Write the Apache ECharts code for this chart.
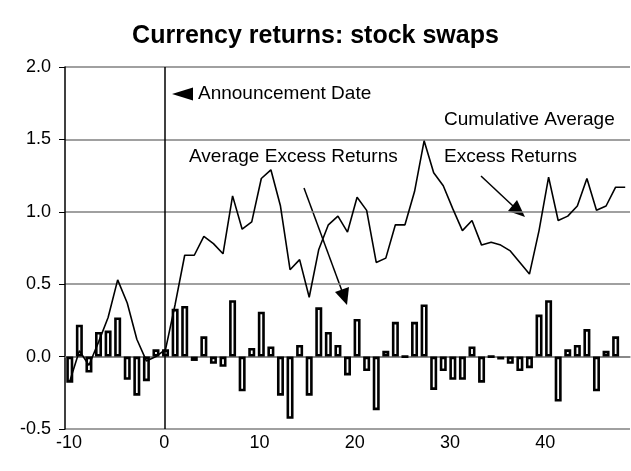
<!DOCTYPE html>
<html>
<head>
<meta charset="utf-8">
<script src="https://cdn.jsdelivr.net/npm/echarts@6/dist/echarts.min.js"></script>
<style>
  html, body { margin: 0; padding: 0; background: #fff; }
  #chart { width: 631px; height: 471px; }
</style>
</head>
<body>
<div id="chart"></div>
<script>
// event days, -10 .. 48
var days = [-10, -9, -8, -7, -6, -5, -4, -3, -2, -1,
    0, 1, 2, 3, 4, 5, 6, 7, 8, 9,
    10, 11, 12, 13, 14, 15, 16, 17, 18, 19,
    20, 21, 22, 23, 24, 25, 26, 27, 28, 29,
    30, 31, 32, 33, 34, 35, 36, 37, 38, 39,
    40, 41, 42, 43, 44, 45, 46, 47, 48];

// average excess returns (bars)
var avgExcess = [-0.18, 0.22, -0.11, 0.17, 0.18, 0.27, -0.16, -0.27, -0.17, 0.05,
    0.05, 0.33, 0.35, -0.03, 0.14, -0.05, -0.07, 0.39, -0.24, 0.06,
    0.31, 0.07, -0.27, -0.43, 0.08, -0.27, 0.34, 0.17, 0.08, -0.13,
    0.26, -0.10, -0.37, 0.04, 0.24, 0, 0.24, 0.36, -0.23, -0.10,
    -0.16, -0.16, 0.07, -0.18, 0, -0.02, -0.05, -0.10, -0.08, 0.29,
    0.39, -0.31, 0.05, 0.08, 0.19, -0.24, 0.04, 0.14, null];

// cumulative average excess returns (line)
var cumExcess = [-0.17, 0.04, -0.06, 0.10, 0.27, 0.53, 0.37, 0.12, -0.03, 0.00,
    0.05, 0.36, 0.70, 0.70, 0.83, 0.78, 0.71, 1.11, 0.88, 0.93,
    1.23, 1.29, 1.04, 0.60, 0.67, 0.41, 0.74, 0.91, 0.97, 0.86,
    1.10, 1.01, 0.65, 0.68, 0.91, 0.91, 1.14, 1.49, 1.27, 1.18,
    1.02, 0.87, 0.94, 0.77, 0.79, 0.77, 0.73, 0.65, 0.57, 0.87,
    1.24, 0.94, 0.97, 1.04, 1.23, 1.01, 1.04, 1.17, 1.17];

var xTicks = { min: -10, max: 49, step: 10 };
var announceDay = 0;
var font = '"Liberation Sans", Arial, sans-serif';

var chart = echarts.init(document.getElementById('chart'));
chart.setOption({
    animation: false,
    backgroundColor: '#fff',
    title: {
        text: 'Currency returns: stock swaps',
        left: 'center',
        top: 19,
        textStyle: { fontFamily: font, fontSize: 25, fontWeight: 'bold', color: '#000' }
    },
    grid: [
        { left: 65, right: 1, top: 67, bottom: 42 },
        // day scale for labels and the announcement line (Excel puts them a bit right)
        { left: 69, width: 565, top: 67, bottom: 42 }
    ],
    xAxis: [{
        type: 'category',
        gridIndex: 0,
        data: days,
        boundaryGap: true,
        axisLine: { lineStyle: { color: '#808080', width: 1.5 } },
        axisTick: { show: false },
        axisLabel: { show: false }
    }, {
        type: 'value',
        gridIndex: 1,
        min: xTicks.min,
        max: xTicks.max,
        interval: xTicks.step,
        axisLine: { show: false },
        axisTick: { show: false },
        axisLabel: { showMaxLabel: false, margin: 5, fontFamily: font, fontSize: 18, color: '#000' },
        splitLine: { show: false }
    }],
    yAxis: [{
        type: 'value',
        gridIndex: 0,
        min: -0.5,
        max: 2.0,
        interval: 0.5,
        axisLine: { show: true, lineStyle: { color: '#000', width: 1.5 } },
        axisTick: { show: true, length: 6, lineStyle: { color: '#000' } },
        axisLabel: {
            margin: 14,
            fontFamily: font, fontSize: 18, color: '#000',
            formatter: function (v) { return v.toFixed(1); }
        },
        splitLine: { lineStyle: { color: '#808080', width: 1.5 } }
    }, {
        type: 'value',
        gridIndex: 1,
        min: -0.5,
        max: 2.0,
        show: false
    }],
    series: [{
        type: 'bar',
        xAxisIndex: 0,
        yAxisIndex: 0,
        data: avgExcess,
        barWidth: 7,
        itemStyle: { color: '#fff', borderColor: '#000', borderWidth: 2.6 }
    }, {
        type: 'line',
        xAxisIndex: 0,
        yAxisIndex: 0,
        data: cumExcess,
        showSymbol: false,
        lineStyle: { color: '#000', width: 1.6 }
    }, {
        // carries the announcement-date marker on the day scale
        type: 'line',
        xAxisIndex: 1,
        yAxisIndex: 1,
        data: [],
        markLine: {
            silent: true,
            symbol: 'none',
            label: { show: false },
            lineStyle: { color: '#000', width: 1.5, type: 'solid' },
            data: [{ xAxis: announceDay }]
        }
    }],
    graphic: [
        { type: 'polygon', shape: { points: [[172, 94], [193, 87.5], [193, 100.5]] }, style: { fill: '#000' } },
        { type: 'text', x: 198, y: 94, style: { text: 'Announcement Date', font: '19px ' + font, fill: '#000', verticalAlign: 'middle' } },
        { type: 'text', x: 189, y: 157, style: { text: 'Average Excess Returns', font: '19px ' + font, fill: '#000', verticalAlign: 'middle' } },
        { type: 'text', x: 444, y: 120, style: { text: 'Cumulative Average', font: '19px ' + font, fill: '#000', verticalAlign: 'middle' } },
        { type: 'text', x: 444, y: 157, style: { text: 'Excess Returns', font: '19px ' + font, fill: '#000', verticalAlign: 'middle' } },
        // arrow: average excess returns -> bars
        { type: 'line', shape: { x1: 304, y1: 188, x2: 342, y2: 291 }, style: { stroke: '#000', lineWidth: 1.5 } },
        { type: 'polygon', shape: { points: [[347, 305], [335, 292], [349, 287]] }, style: { fill: '#000' } },
        // arrow: cumulative average -> line
        { type: 'line', shape: { x1: 481, y1: 176, x2: 513, y2: 206 }, style: { stroke: '#000', lineWidth: 1.5 } },
        { type: 'polygon', shape: { points: [[525, 217], [508, 211], [517, 200]] }, style: { fill: '#000' } }
    ]
});
</script>
</body>
</html>
